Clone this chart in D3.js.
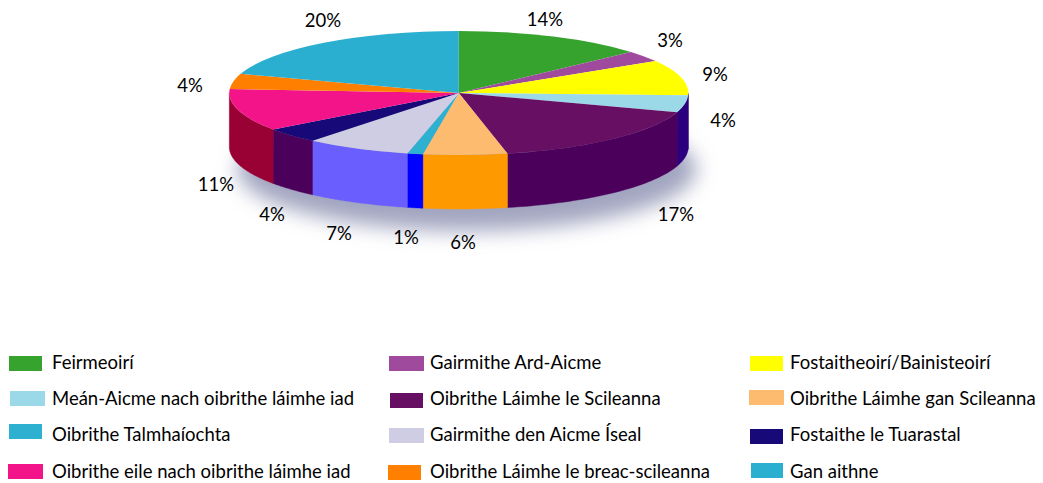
<!DOCTYPE html>
<html>
<head>
<meta charset="utf-8">
<script src="https://cdn.jsdelivr.net/npm/d3@7"></script>
<style>
  html, body { margin: 0; background: #fff; }
  svg { display: block; }
</style>
</head>
<body>
<svg id="chart"></svg>
<script>
const categories = [
  "Feirmeoirí", "Gairmithe Ard-Aicme", "Fostaitheoirí/Bainisteoirí",
  "Meán-Aicme nach oibrithe láimhe iad", "Oibrithe Láimhe le Scileanna", "Oibrithe Láimhe gan Scileanna",
  "Oibrithe Talmhaíochta", "Gairmithe den Aicme Íseal", "Fostaithe le Tuarastal",
  "Oibrithe eile nach oibrithe láimhe iad", "Oibrithe Láimhe le breac-scileanna", "Gan aithne",
];
// estimated from the slice edges, the printed labels are the rounded figures
const shares = [13.5, 2.9, 9.2, 4.4, 16.6, 5.9, 1.1, 7.4, 4, 11, 4, 20];
const percentLabels = ["14%", "3%", "9%", "4%", "17%", "6%", "1%", "7%", "4%", "11%", "4%", "20%"];

const topColors = ["#36a32f", "#a04a9e", "#ffff00", "#9bd9e9", "#660f63", "#fdbb70",
  "#2eb0d0", "#cfcde4", "#170a78", "#f4148a", "#ff8000", "#2bafd0"];
const sideColors = ["#36a32f", "#a04a9e", "#2a007f", "#2a007f", "#4b005c", "#ff9900",
  "#0000ff", "#6a5eff", "#4b005c", "#990033", "#ff8000", "#2bafd0"];

// hand placed in the original, so kept as layout
const labelPos = [[545, 26], [670, 47], [715, 81], [723, 127], [676, 221], [463, 249],
  [406, 244], [339, 240], [272, 221], [216, 191], [190, 92], [323, 27]];
const legendPos = [[9, 356, 33, 52, 369], [389, 356, 35, 430, 369], [750, 356, 33, 790, 369],
  [10, 391, 35, 52, 405], [390, 393, 33, 430, 405], [749, 390, 35, 790, 405],
  [9, 424, 33, 52, 441], [389, 428, 35, 430, 441], [750, 429, 33, 790, 441],
  [8, 464, 35, 52, 478], [388, 465, 33, 430, 478], [751, 463, 32, 790, 478]];

const width = 1043;
const height = 483;
const cx = 458.8;
const cy = 93;
const rx = 229.5;
const ry = 62;
const depth = 54;
const fontFamily = "Lato, 'Open Sans', sans-serif";
const fontSize = 19.5;
const textSqueeze = 0.95; // the original face is narrower than Lato

const svg = d3.select("#chart").attr("width", width).attr("height", height);

const defs = svg.append("defs");
defs.append("filter")
  .attr("id", "pieShadow")
  .attr("x", "-20%").attr("y", "-40%").attr("width", "140%").attr("height", "180%")
  .append("feGaussianBlur")
  .attr("stdDeviation", 10);

// Shadow under the pie
svg.append("ellipse")
  .attr("cx", cx + 8)
  .attr("cy", cy + depth + 22)
  .attr("rx", rx)
  .attr("ry", ry)
  .attr("fill", "#a2a5c0")
  .attr("filter", "url(#pieShadow)");

const slices = d3.pie().sort(null)(shares);

// Side wall, only the front half of the pie shows one
const rimX = (a) => cx + rx * Math.sin(a);
const rimY = (a) => cy - ry * Math.cos(a);
const wallLine = d3.line();

const walls = svg.append("g");
slices.forEach((s, i) => {
  const a0 = Math.max(s.startAngle, Math.PI / 2);
  const a1 = Math.min(s.endAngle, Math.PI * 1.5);
  if (a1 <= a0) return;
  const steps = d3.range(0, 41).map((k) => a0 + ((a1 - a0) * k) / 40);
  const upper = steps.map((a) => [rimX(a), rimY(a)]);
  const lower = steps.slice().reverse().map((a) => [rimX(a), rimY(a) + depth]);
  walls.append("path")
    .attr("d", wallLine(upper.concat(lower)) + "Z")
    .attr("fill", sideColors[i])
    .attr("stroke", sideColors[i])
    .attr("stroke-width", 0.4);
});

// Top face, a flat pie squashed into an ellipse
const arc = d3.arc().innerRadius(0).outerRadius(rx);
svg.append("g")
  .attr("transform", `translate(${cx},${cy}) scale(1,${ry / rx})`)
  .selectAll("path")
  .data(slices)
  .join("path")
  .attr("d", arc)
  .attr("fill", (d, i) => topColors[i]);

// Percent labels
svg.append("g")
  .selectAll("text")
  .data(percentLabels)
  .join("text")
  .attr("transform", (d, i) => `translate(${labelPos[i][0]},${labelPos[i][1]}) scale(${textSqueeze},1)`)
  .attr("text-anchor", "middle")
  .attr("font-family", fontFamily)
  .attr("font-size", fontSize)
  .attr("fill", "#000")
  .text((d) => d);

// Legend
const legend = svg.append("g");
categories.forEach((name, i) => {
  const [sx, sy, sw, tx, ty] = legendPos[i];
  legend.append("rect")
    .attr("x", sx).attr("y", sy)
    .attr("width", sw).attr("height", 15)
    .attr("fill", topColors[i]);
  legend.append("text")
    .attr("transform", `translate(${tx},${ty}) scale(${textSqueeze},1)`)
    .attr("font-family", fontFamily)
    .attr("font-size", fontSize)
    .attr("fill", "#000")
    .text(name);
});
</script>
</body>
</html>
